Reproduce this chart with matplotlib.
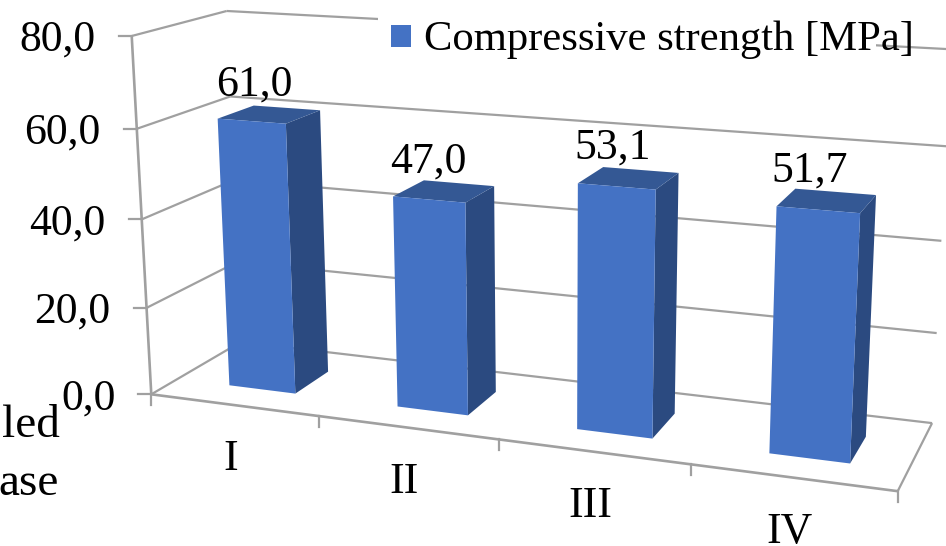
import numpy as np
import matplotlib
matplotlib.use("Agg")
import matplotlib.pyplot as plt
from matplotlib.patches import Polygon, Rectangle

plt.rcParams['font.family'] = ['Liberation Serif', 'DejaVu Serif']

categories = ['I', 'II', 'III', 'IV']
strength = [61.0, 47.0, 53.1, 51.7]
y_ticks = [0, 20, 40, 60, 80]
legend_label = 'Compressive strength [MPa]'

GRID = '#a0a0a0'
FRONT = '#4472c4'
TOP = '#345894'
SIDE = '#2b4a80'

# camera calibration: (category pos, depth, value) -> pixel, used for the fake 3D look
world = np.array([
    (0, 0, 0), (0, 0, 20), (0, 0, 40), (0, 0, 60), (0, 0, 80),
    (0, 1, 0), (0, 1, 40), (0, 1, 60), (0, 1, 80),
    (4, 0, 0), (4, 1, 0), (4, 1, 20), (4, 1, 40), (4, 1, 60), (4, 1, 80),
    (1, 0, 0), (3, 0, 0),
], dtype=float)
pixel = np.array([
    (152, 395), (147, 307), (142, 219), (137, 128), (131, 36),
    (241, 342), (232, 180), (230, 97), (228, 11),
    (898, 491), (932, 422), (937, 333), (942, 241), (946, 146), (951, 50),
    (319, 417), (690, 465),
], dtype=float)


def fit_camera(w, p):
    rows = []
    for (x, d, z), (u, v) in zip(w, p):
        rows.append([x, d, z, 1, 0, 0, 0, 0, -u * x, -u * d, -u * z, -u])
        rows.append([0, 0, 0, 0, x, d, z, 1, -v * x, -v * d, -v * z, -v])
    return np.linalg.svd(np.array(rows))[2][-1].reshape(3, 4)


cam = fit_camera(world, pixel)


def project(x, d, z):
    h = cam @ np.array([x, d, z, 1.0])
    return h[0] / h[2], h[1] / h[2]


fig = plt.figure(figsize=(9.46, 5.46), dpi=100)
ax = fig.add_axes([0, 0, 1, 1])
ax.set_xlim(0, 946)
ax.set_ylim(546, 0)
ax.axis('off')


def seg(a, b, lw=1.6):
    pa, pb = project(*a), project(*b)
    ax.plot([pa[0], pb[0]], [pa[1], pb[1]], color=GRID, lw=lw,
            solid_capstyle='butt', zorder=1)


# walls
n = len(categories)
for v in y_ticks:
    seg((0, 0, v), (0, 1, v))
    seg((0, 1, v), (n, 1, v))
seg((0, 0, 0), (0, 0, y_ticks[-1]), lw=1.9)
seg((0, 0, 0), (n, 0, 0), lw=1.9)
seg((n, 0, 0), (n, 1, 0))

# value axis ticks and labels
for v in y_ticks:
    u0, v0 = project(0, 0, v)
    ax.plot([u0 - 13, u0], [v0, v0], color=GRID, lw=1.6, zorder=1)
    ax.text(u0 - 36, v0 + 15, f'{v:.1f}'.replace('.', ','), fontsize=31.5,
            ha='right', va='baseline', color='black')

# category ticks and labels
for i in range(n + 1):
    u0, v0 = project(i, 0, 0)
    ax.plot([u0, u0], [v0, v0 + 11], color=GRID, lw=1.6, zorder=1)
for i, c in enumerate(categories):
    u0, v0 = project(i + 0.5, 0, 0)
    ax.text(u0 - 3, v0 + 65, c, fontsize=31.5, ha='center', va='baseline', color='black')

# bars
half_w = 0.2
shift = 0.02
d0, d1 = 0.28, 0.68
for i, val in enumerate(strength):
    xa, xb = i + 0.5 + shift - half_w, i + 0.5 + shift + half_w
    front = [project(xa, d0, 0), project(xb, d0, 0), project(xb, d0, val), project(xa, d0, val)]
    side = [project(xb, d0, 0), project(xb, d1, 0), project(xb, d1, val), project(xb, d0, val)]
    top = [project(xa, d0, val), project(xb, d0, val), project(xb, d1, val), project(xa, d1, val)]
    ax.add_patch(Polygon(side, fc=SIDE, ec='none', zorder=3))
    ax.add_patch(Polygon(top, fc=TOP, ec='none', zorder=3))
    ax.add_patch(Polygon(front, fc=FRONT, ec='none', zorder=3))
    u0, v0 = project(i + 0.5, 0.5, val)
    ax.text(u0 - 14, v0 - 29, f'{val:.1f}'.replace('.', ','), fontsize=31.5,
            ha='center', va='center', color='black', zorder=4)

# legend sits over the top gridline
ax.add_patch(Rectangle((378, 0), 498, 60, fc='white', ec='none', zorder=2))
ax.add_patch(Rectangle((391, 25), 20, 22, fc=FRONT, ec='none', zorder=3))
ax.text(424, 50, legend_label, fontsize=30.7, ha='left', va='baseline', color='black', zorder=4)

# axis title running off the left edge
ax.text(60, 437, 'led', fontsize=34, ha='right', va='baseline', color='black')
ax.text(59, 495, 'ase', fontsize=34, ha='right', va='baseline', color='black')

fig.savefig('out.png', dpi=100)
